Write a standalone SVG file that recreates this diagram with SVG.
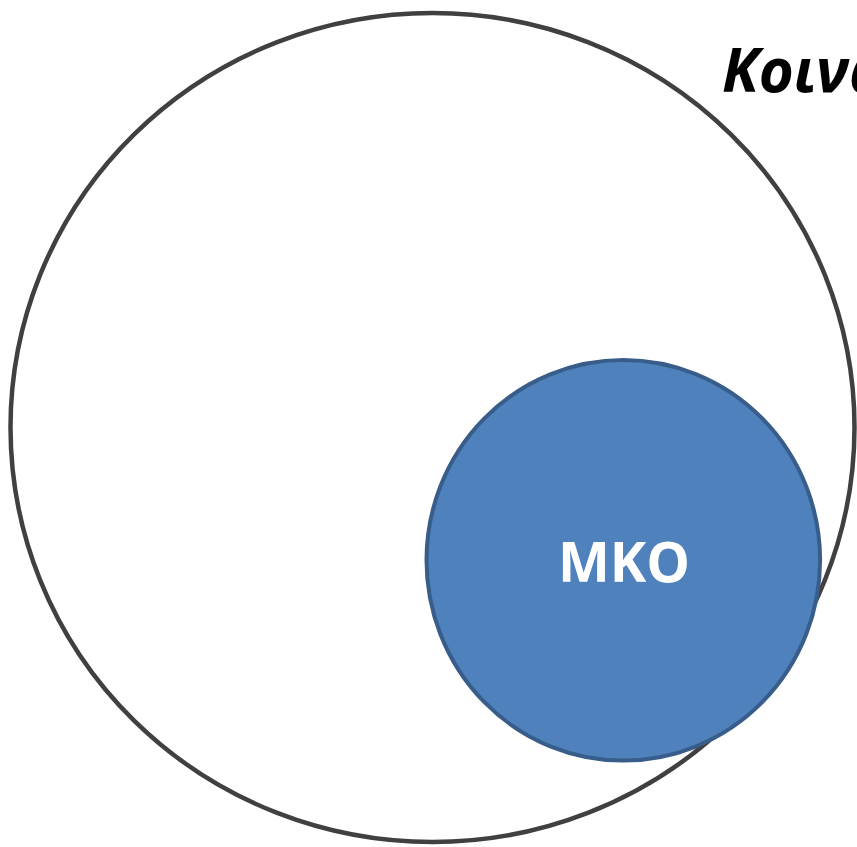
<svg xmlns="http://www.w3.org/2000/svg" width="857" height="847" viewBox="0 0 857 847">
  <style>
    .outer { fill: #ffffff; stroke: #404040; stroke-width: 4.5; }
    .inner { fill: #4f81bd; stroke: #385d8a; stroke-width: 4; }
    .title { font-family: "Open Sans", "Noto Sans", sans-serif; font-weight: bold; font-style: italic; font-size: 60px; fill: #000000; }
    .label { font-family: "Open Sans", "Noto Sans", sans-serif; font-weight: bold; font-size: 55px; fill: #ffffff; text-anchor: middle; }
  </style>
  <rect width="857" height="847" fill="#ffffff"/>
  <!-- outer set: society -->
  <g id="society">
    <ellipse class="outer" cx="432.5" cy="427.5" rx="422" ry="414.5"/>
  </g>
  <g id="title">
    <text class="title" x="722" y="92">Κοινωνία</text>
  </g>
  <!-- inner set: NGOs -->
  <g id="ngo">
    <ellipse class="inner" cx="623.3" cy="560.3" rx="196.8" ry="200.3"/>
    <text class="label" x="624" y="582">ΜΚΟ</text>
  </g>
</svg>
